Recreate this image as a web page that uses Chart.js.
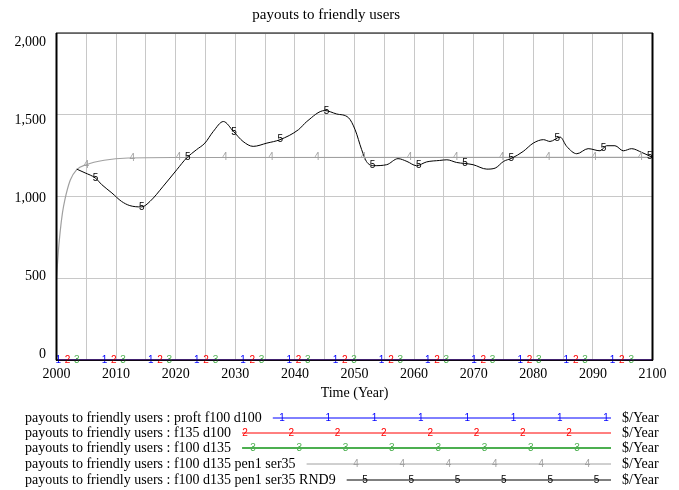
<!DOCTYPE html>
<html>
<head>
<meta charset="utf-8">
<title>payouts to friendly users</title>
<script src="https://cdn.jsdelivr.net/npm/chart.js@4.4.1/dist/chart.umd.min.js"></script>
<style>
  body { margin: 0; background: #fff; }
  #wrap { width: 679px; height: 490px; }
</style>
</head>
<body>
<div id="wrap"><canvas id="payoutChart" width="679" height="490"></canvas></div>
<script>
const seriesNames = [
  'payouts to friendly users : proft f100 d100',
  'payouts to friendly users : f135 d100',
  'payouts to friendly users : f100 d135',
  'payouts to friendly users : f100 d135 pen1 ser35',
  'payouts to friendly users : f100 d135 pen1 ser35 RND9'
];
const seriesColors = ['#0000ff', '#ff0000', '#4caf50', '#a0a0a0', '#000000'];
const unitLabel = '$/Year';

// runs 1-3 stay at zero the whole time
const flatYears = [2000, 2100];
const proftF100D100 = [0, 0];
const f135D100 = [0, 0];
const f100D135 = [0, 0];

const pen1Years = [2000, 2000.3, 2000.6, 2001, 2001.4, 2002.3, 2003.4, 2005, 2008, 2012, 2020, 2100];
const pen1Values = [500, 660, 780, 900, 980, 1100, 1165, 1195, 1222, 1236, 1239, 1240];

const rnd9Years = [
  2003.4, 2004.8, 2006.5, 2007.6, 2009.3, 2010.9, 2012.3, 2014.3, 2015.7, 2017.9,
  2020.2, 2021.8, 2023.5, 2024.9, 2026.3, 2028.0, 2029.7, 2031.3, 2033.0, 2035.3,
  2037.5, 2040.6, 2042.0, 2045.0, 2047.0, 2049.0, 2050.1, 2051.2, 2052.0, 2053.2,
  2055.4, 2057.3, 2058.8, 2060.4, 2062.1, 2064.3, 2065.5, 2067.1, 2069.9, 2072.2,
  2073.6, 2075.0, 2076.4, 2078.3, 2080.0, 2081.7, 2082.8, 2084.5, 2085.6, 2087.3,
  2089.2, 2091.2, 2092.3, 2093.7, 2095.1, 2096.5, 2098.2, 2100
];
const rnd9Values = [
  1168, 1145, 1114, 1073, 1022, 971, 945, 937, 971, 1063,
  1165, 1235, 1287, 1327, 1398, 1459, 1398, 1337, 1307, 1327,
  1348, 1409, 1459, 1526, 1505, 1482, 1409, 1287, 1215, 1189,
  1195, 1232, 1215, 1189, 1212, 1221, 1225, 1209, 1195, 1168,
  1174, 1215, 1235, 1276, 1327, 1348, 1337, 1364, 1307, 1262,
  1293, 1280, 1311, 1311, 1280, 1293, 1270, 1240
];

const serif = '"Liberation Serif", "Times New Roman", serif';
const sans = '"Liberation Sans", Arial, sans-serif';

function toPoints(xs, ys) {
  return xs.map((x, i) => ({ x: x, y: ys[i] }));
}

function valueAt(pts, x) {
  for (let i = 1; i < pts.length; i++) {
    if (x <= pts[i].x) {
      const a = pts[i - 1], b = pts[i];
      return a.y + (b.y - a.y) * (x - a.x) / (b.x - a.x);
    }
  }
  return pts[pts.length - 1].y;
}

// vensim style run numbers along each line
const numberMarkers = {
  id: 'numberMarkers',
  afterDatasetsDraw(chart) {
    const { ctx, scales: { x, y } } = chart;
    ctx.save();
    ctx.font = '10px ' + sans;
    ctx.textAlign = 'center';
    ctx.textBaseline = 'middle';
    chart.data.datasets.forEach((ds, i) => {
      const pts = ds.data;
      ctx.fillStyle = ds.borderColor;
      for (let yr = 2000.3 + 1.56 * i; yr <= 2100; yr += 7.75) {
        if (yr < pts[0].x) continue;
        ctx.fillText(String(i + 1), x.getPixelForValue(yr), y.getPixelForValue(valueAt(pts, yr)));
      }
    });
    ctx.restore();
  }
};

// frame, y labels and the legend block under the chart
const frameAndLegend = {
  id: 'frameAndLegend',
  afterDraw(chart) {
    const { ctx, chartArea: a } = chart;
    const yScale = chart.scales.y;
    ctx.save();

    ctx.strokeStyle = '#000';
    ctx.lineWidth = 1;
    ctx.strokeRect(a.left, a.top, a.right - a.left, a.bottom - a.top);
    ctx.lineWidth = 2;
    ctx.beginPath();
    ctx.moveTo(a.left, a.top); ctx.lineTo(a.left, a.bottom);
    ctx.moveTo(a.right, a.top); ctx.lineTo(a.right, a.bottom);
    ctx.stroke();

    ctx.fillStyle = '#000';
    ctx.font = '14px ' + serif;
    ctx.textAlign = 'right';
    ctx.textBaseline = 'middle';
    yScale.ticks.forEach(t => {
      const py = yScale.getPixelForValue(t.value) - 6 + 15 * t.value / 2000;
      ctx.fillText(t.value.toLocaleString('en-US'), 46, py);
    });

    const rowY = [418, 433, 448, 464, 480];
    const firstMark = [282, 245, 253, 356, 365];
    const legendWidths = [1, 1, 2, 1, 1];
    const lineEnd = 611;
    seriesNames.forEach((name, i) => {
      const ry = rowY[i];
      ctx.font = '14px ' + serif;
      ctx.textAlign = 'left';
      ctx.fillStyle = '#000';
      ctx.fillText(name, 25, ry);
      const start = 25 + ctx.measureText(name).width + 11;
      ctx.fillText(unitLabel, 622, ry);

      ctx.strokeStyle = seriesColors[i];
      ctx.lineWidth = legendWidths[i];
      ctx.beginPath();
      ctx.moveTo(start, ry);
      ctx.lineTo(lineEnd, ry);
      ctx.stroke();

      ctx.font = '10px ' + sans;
      ctx.textAlign = 'center';
      ctx.fillStyle = seriesColors[i];
      for (let mx = firstMark[i]; mx < lineEnd; mx += 46.3) {
        ctx.fillText(String(i + 1), mx, ry);
      }
    });
    ctx.restore();
  }
};

const ctx = document.getElementById('payoutChart').getContext('2d');
const payoutChart = new Chart(ctx, {
  type: 'line',
  data: {
    datasets: [
      { label: seriesNames[0], data: toPoints(flatYears, proftF100D100), borderColor: seriesColors[0], borderWidth: 1.5, order: 1 },
      { label: seriesNames[1], data: toPoints(flatYears, f135D100), borderColor: seriesColors[1], borderWidth: 1.5, order: 2 },
      { label: seriesNames[2], data: toPoints(flatYears, f100D135), borderColor: seriesColors[2], borderWidth: 2, order: 3 },
      { label: seriesNames[3], data: toPoints(pen1Years, pen1Values), borderColor: seriesColors[3], borderWidth: 1.2, order: 4 },
      { label: seriesNames[4], data: toPoints(rnd9Years, rnd9Values), borderColor: seriesColors[4], borderWidth: 1, order: 0 }
    ]
  },
  options: {
    responsive: false,
    animation: false,
    cubicInterpolationMode: 'monotone',
    elements: { point: { radius: 0 } },
    layout: { padding: { left: 0, right: 26.5, top: 0, bottom: 88 } },
    plugins: {
      legend: { display: false },
      tooltip: { enabled: false },
      title: {
        display: true,
        text: 'payouts to friendly users',
        color: '#000',
        font: { family: serif, size: 15, weight: 'normal' },
        padding: { top: 6, bottom: 9 }
      }
    },
    scales: {
      x: {
        type: 'linear',
        min: 2000,
        max: 2100,
        border: { color: '#000', width: 1 },
        grid: { color: '#c8c8c8', drawTicks: false },
        ticks: {
          stepSize: 5,
          autoSkip: false,
          maxRotation: 0,
          padding: 7,
          color: '#000',
          font: { family: serif, size: 14, lineHeight: 1 },
          callback: v => (v % 10 === 0 ? String(v) : '')
        },
        title: {
          display: true,
          text: 'Time (Year)',
          color: '#000',
          font: { family: serif, size: 14 },
          padding: { top: -3, bottom: 0 }
        }
      },
      y: {
        min: 0,
        max: 2000,
        border: { color: '#000', width: 1 },
        grid: { color: '#c8c8c8', drawTicks: false },
        ticks: { stepSize: 500, display: false },
        afterFit(scale) { scale.width = 56.5; }
      }
    }
  },
  plugins: [numberMarkers, frameAndLegend]
});
</script>
</body>
</html>
